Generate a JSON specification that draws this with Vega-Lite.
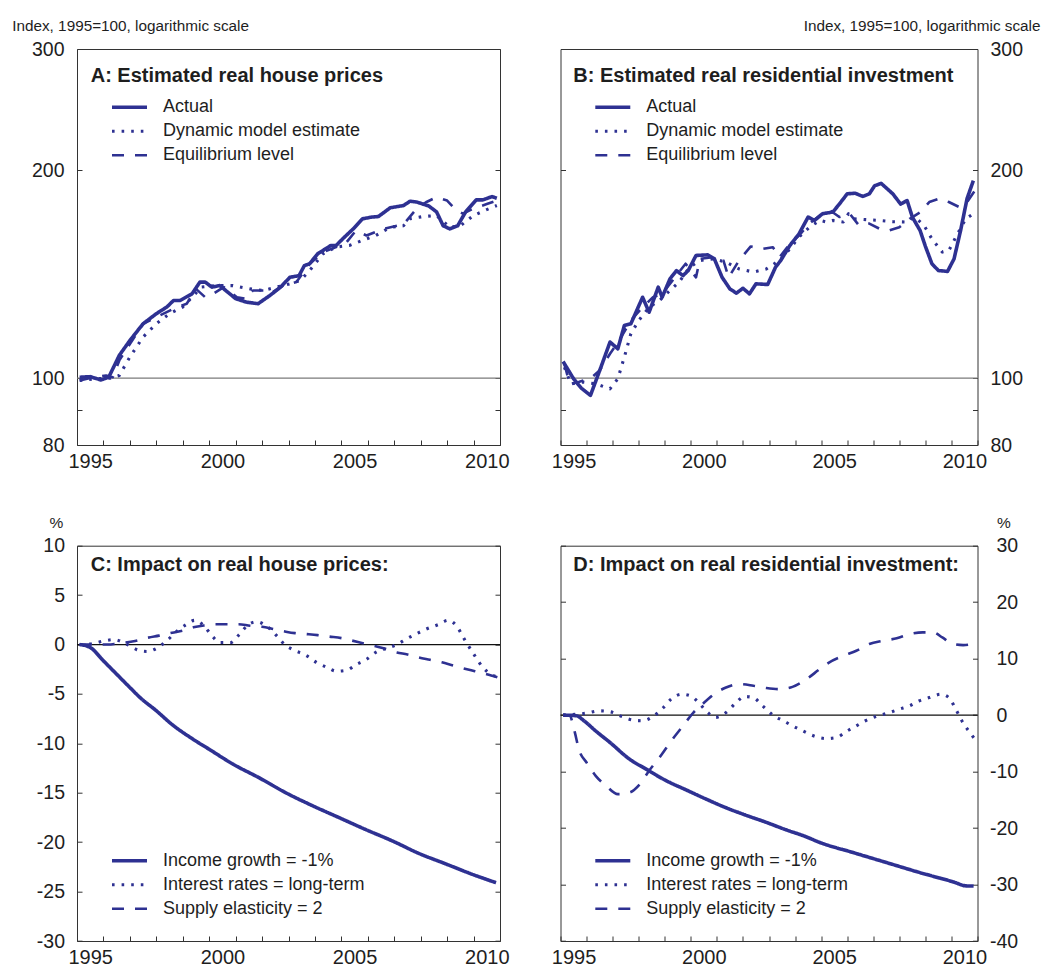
{
  "$schema": "https://vega.github.io/schema/vega-lite/v6.json",
  "background": "white",
  "padding": {"left": 11, "top": 17, "right": 5, "bottom": 0},
  "columns": 2,
  "spacing": {"row": 100.7, "column": 60.5},
  "bounds": "flush",
  "resolve": {
    "scale": {"strokeDash": "independent", "strokeWidth": "independent"},
    "legend": {"strokeDash": "independent", "strokeWidth": "independent"}
  },
  "datasets": {
    "A": [
      {"s": "Actual", "x": 1995.1, "v": 100.3}, {"s": "Actual", "x": 1995.5, "v": 100.5}, {"s": "Actual", "x": 1995.9, "v": 99.4}, {"s": "Actual", "x": 1996.2, "v": 100.3},
      {"s": "Actual", "x": 1996.6, "v": 107.9}, {"s": "Actual", "x": 1997.0, "v": 113.4}, {"s": "Actual", "x": 1997.5, "v": 119.9}, {"s": "Actual", "x": 1998.0, "v": 124.0},
      {"s": "Actual", "x": 1998.4, "v": 126.8}, {"s": "Actual", "x": 1998.65, "v": 129.6}, {"s": "Actual", "x": 1998.9, "v": 129.6}, {"s": "Actual", "x": 1999.35, "v": 132.5},
      {"s": "Actual", "x": 1999.65, "v": 137.8}, {"s": "Actual", "x": 1999.85, "v": 137.8}, {"s": "Actual", "x": 2000.1, "v": 135.5}, {"s": "Actual", "x": 2000.4, "v": 136.2},
      {"s": "Actual", "x": 2001.0, "v": 130.4}, {"s": "Actual", "x": 2001.4, "v": 128.9}, {"s": "Actual", "x": 2001.85, "v": 128.2}, {"s": "Actual", "x": 2002.3, "v": 131.8},
      {"s": "Actual", "x": 2002.7, "v": 135.5}, {"s": "Actual", "x": 2003.05, "v": 140.0}, {"s": "Actual", "x": 2003.4, "v": 140.8}, {"s": "Actual", "x": 2003.6, "v": 145.6},
      {"s": "Actual", "x": 2003.8, "v": 146.5}, {"s": "Actual", "x": 2004.1, "v": 151.4}, {"s": "Actual", "x": 2004.6, "v": 155.7}, {"s": "Actual", "x": 2004.8, "v": 155.7},
      {"s": "Actual", "x": 2005.05, "v": 159.2}, {"s": "Actual", "x": 2005.45, "v": 164.6}, {"s": "Actual", "x": 2005.8, "v": 170.2}, {"s": "Actual", "x": 2006.15, "v": 171.2},
      {"s": "Actual", "x": 2006.4, "v": 171.5}, {"s": "Actual", "x": 2006.85, "v": 176.6}, {"s": "Actual", "x": 2007.35, "v": 177.9}, {"s": "Actual", "x": 2007.6, "v": 180.5},
      {"s": "Actual", "x": 2007.85, "v": 180.0}, {"s": "Actual", "x": 2008.3, "v": 177.7}, {"s": "Actual", "x": 2008.6, "v": 174.2}, {"s": "Actual", "x": 2008.85, "v": 166.3},
      {"s": "Actual", "x": 2009.1, "v": 164.6}, {"s": "Actual", "x": 2009.4, "v": 166.3}, {"s": "Actual", "x": 2009.7, "v": 174.2}, {"s": "Actual", "x": 2010.1, "v": 181.3},
      {"s": "Actual", "x": 2010.35, "v": 181.3}, {"s": "Actual", "x": 2010.7, "v": 183.3}, {"s": "Actual", "x": 2010.88, "v": 182.3},
      {"s": "Dynamic model estimate", "x": 1995.1, "v": 99.2}, {"s": "Dynamic model estimate", "x": 1995.75, "v": 99.8}, {"s": "Dynamic model estimate", "x": 1996.25, "v": 100.0},
      {"s": "Dynamic model estimate", "x": 1996.6, "v": 100.9}, {"s": "Dynamic model estimate", "x": 1997.0, "v": 107.3}, {"s": "Dynamic model estimate", "x": 1997.5, "v": 114.7},
      {"s": "Dynamic model estimate", "x": 1998.0, "v": 119.9}, {"s": "Dynamic model estimate", "x": 1998.5, "v": 124.0}, {"s": "Dynamic model estimate", "x": 1999.0, "v": 126.8},
      {"s": "Dynamic model estimate", "x": 1999.35, "v": 131.0}, {"s": "Dynamic model estimate", "x": 1999.7, "v": 135.5}, {"s": "Dynamic model estimate", "x": 2000.3, "v": 136.2},
      {"s": "Dynamic model estimate", "x": 2000.9, "v": 136.2}, {"s": "Dynamic model estimate", "x": 2001.55, "v": 134.7}, {"s": "Dynamic model estimate", "x": 2002.05, "v": 134.0},
      {"s": "Dynamic model estimate", "x": 2002.55, "v": 135.5}, {"s": "Dynamic model estimate", "x": 2003.05, "v": 137.0}, {"s": "Dynamic model estimate", "x": 2003.45, "v": 138.6},
      {"s": "Dynamic model estimate", "x": 2003.8, "v": 143.2}, {"s": "Dynamic model estimate", "x": 2004.3, "v": 151.4}, {"s": "Dynamic model estimate", "x": 2004.8, "v": 154.9},
      {"s": "Dynamic model estimate", "x": 2005.3, "v": 155.7}, {"s": "Dynamic model estimate", "x": 2005.8, "v": 158.4}, {"s": "Dynamic model estimate", "x": 2006.3, "v": 161.0},
      {"s": "Dynamic model estimate", "x": 2006.85, "v": 165.5}, {"s": "Dynamic model estimate", "x": 2007.35, "v": 166.3}, {"s": "Dynamic model estimate", "x": 2007.6, "v": 170.2},
      {"s": "Dynamic model estimate", "x": 2008.1, "v": 171.5}, {"s": "Dynamic model estimate", "x": 2008.6, "v": 172.1}, {"s": "Dynamic model estimate", "x": 2009.1, "v": 165.5},
      {"s": "Dynamic model estimate", "x": 2009.5, "v": 166.3}, {"s": "Dynamic model estimate", "x": 2010.0, "v": 172.1}, {"s": "Dynamic model estimate", "x": 2010.5, "v": 175.5},
      {"s": "Dynamic model estimate", "x": 2010.88, "v": 177.9},
      {"s": "Equilibrium level", "x": 1995.1, "v": 99.2}, {"s": "Equilibrium level", "x": 1995.6, "v": 100.3}, {"s": "Equilibrium level", "x": 1996.1, "v": 100.9},
      {"s": "Equilibrium level", "x": 1996.35, "v": 100.3}, {"s": "Equilibrium level", "x": 1996.6, "v": 106.1}, {"s": "Equilibrium level", "x": 1997.0, "v": 112.1},
      {"s": "Equilibrium level", "x": 1997.5, "v": 119.9}, {"s": "Equilibrium level", "x": 1998.0, "v": 122.6}, {"s": "Equilibrium level", "x": 1998.8, "v": 126.8},
      {"s": "Equilibrium level", "x": 1999.15, "v": 128.2}, {"s": "Equilibrium level", "x": 1999.5, "v": 134.7}, {"s": "Equilibrium level", "x": 1999.85, "v": 131.0},
      {"s": "Equilibrium level", "x": 2000.15, "v": 132.5}, {"s": "Equilibrium level", "x": 2000.55, "v": 135.5}, {"s": "Equilibrium level", "x": 2001.05, "v": 131.0},
      {"s": "Equilibrium level", "x": 2001.4, "v": 130.3}, {"s": "Equilibrium level", "x": 2001.65, "v": 134.0}, {"s": "Equilibrium level", "x": 2002.05, "v": 134.0},
      {"s": "Equilibrium level", "x": 2002.3, "v": 132.5}, {"s": "Equilibrium level", "x": 2002.8, "v": 136.2}, {"s": "Equilibrium level", "x": 2003.3, "v": 137.8},
      {"s": "Equilibrium level", "x": 2003.8, "v": 146.5}, {"s": "Equilibrium level", "x": 2004.3, "v": 152.2}, {"s": "Equilibrium level", "x": 2004.8, "v": 154.9},
      {"s": "Equilibrium level", "x": 2005.2, "v": 157.5}, {"s": "Equilibrium level", "x": 2005.55, "v": 163.6}, {"s": "Equilibrium level", "x": 2005.95, "v": 161.0},
      {"s": "Equilibrium level", "x": 2006.6, "v": 164.6}, {"s": "Equilibrium level", "x": 2007.35, "v": 167.1}, {"s": "Equilibrium level", "x": 2007.85, "v": 176.1},
      {"s": "Equilibrium level", "x": 2008.2, "v": 179.9}, {"s": "Equilibrium level", "x": 2008.6, "v": 183.0}, {"s": "Equilibrium level", "x": 2009.0, "v": 180.9},
      {"s": "Equilibrium level", "x": 2009.35, "v": 175.0}, {"s": "Equilibrium level", "x": 2009.6, "v": 173.2}, {"s": "Equilibrium level", "x": 2010.0, "v": 176.1},
      {"s": "Equilibrium level", "x": 2010.5, "v": 178.8}, {"s": "Equilibrium level", "x": 2010.88, "v": 180.9}
    ],
    "B": [
      {"s": "Actual", "x": 1995.1, "v": 105.7}, {"s": "Actual", "x": 1995.5, "v": 99.8}, {"s": "Actual", "x": 1995.8, "v": 96.7}, {"s": "Actual", "x": 1996.15, "v": 94.4},
      {"s": "Actual", "x": 1996.55, "v": 103.7}, {"s": "Actual", "x": 1996.9, "v": 112.8}, {"s": "Actual", "x": 1997.2, "v": 110.3}, {"s": "Actual", "x": 1997.45, "v": 119.2},
      {"s": "Actual", "x": 1997.7, "v": 119.9}, {"s": "Actual", "x": 1998.15, "v": 131.0}, {"s": "Actual", "x": 1998.4, "v": 124.6}, {"s": "Actual", "x": 1998.75, "v": 135.5},
      {"s": "Actual", "x": 1998.9, "v": 131.0}, {"s": "Actual", "x": 1999.2, "v": 139.3}, {"s": "Actual", "x": 1999.45, "v": 143.2}, {"s": "Actual", "x": 1999.7, "v": 140.8},
      {"s": "Actual", "x": 1999.9, "v": 143.2}, {"s": "Actual", "x": 2000.2, "v": 150.6}, {"s": "Actual", "x": 2000.65, "v": 150.9}, {"s": "Actual", "x": 2000.9, "v": 149.0},
      {"s": "Actual", "x": 2001.2, "v": 140.0}, {"s": "Actual", "x": 2001.5, "v": 134.7}, {"s": "Actual", "x": 2001.75, "v": 132.8}, {"s": "Actual", "x": 2002.0, "v": 135.0},
      {"s": "Actual", "x": 2002.25, "v": 132.5}, {"s": "Actual", "x": 2002.5, "v": 137.0}, {"s": "Actual", "x": 2002.95, "v": 136.7}, {"s": "Actual", "x": 2003.25, "v": 144.8},
      {"s": "Actual", "x": 2003.45, "v": 148.1}, {"s": "Actual", "x": 2003.8, "v": 155.7}, {"s": "Actual", "x": 2004.15, "v": 161.8}, {"s": "Actual", "x": 2004.5, "v": 171.2},
      {"s": "Actual", "x": 2004.75, "v": 169.3}, {"s": "Actual", "x": 2005.05, "v": 173.1}, {"s": "Actual", "x": 2005.45, "v": 174.1}, {"s": "Actual", "x": 2005.7, "v": 178.8},
      {"s": "Actual", "x": 2006.0, "v": 185.0}, {"s": "Actual", "x": 2006.3, "v": 185.4}, {"s": "Actual", "x": 2006.6, "v": 183.4}, {"s": "Actual", "x": 2006.85, "v": 185.0},
      {"s": "Actual", "x": 2007.05, "v": 190.0}, {"s": "Actual", "x": 2007.3, "v": 191.6}, {"s": "Actual", "x": 2007.75, "v": 185.0}, {"s": "Actual", "x": 2008.05, "v": 178.8},
      {"s": "Actual", "x": 2008.3, "v": 180.9}, {"s": "Actual", "x": 2008.5, "v": 171.2}, {"s": "Actual", "x": 2008.8, "v": 163.6}, {"s": "Actual", "x": 2009.0, "v": 155.3},
      {"s": "Actual", "x": 2009.25, "v": 146.5}, {"s": "Actual", "x": 2009.5, "v": 143.2}, {"s": "Actual", "x": 2009.85, "v": 142.8}, {"s": "Actual", "x": 2010.1, "v": 148.9},
      {"s": "Actual", "x": 2010.35, "v": 163.6}, {"s": "Actual", "x": 2010.6, "v": 182.1}, {"s": "Actual", "x": 2010.84, "v": 193.3},
      {"s": "Dynamic model estimate", "x": 1995.15, "v": 103.7}, {"s": "Dynamic model estimate", "x": 1995.4, "v": 98.1}, {"s": "Dynamic model estimate", "x": 1995.85, "v": 98.7},
      {"s": "Dynamic model estimate", "x": 1996.35, "v": 98.1}, {"s": "Dynamic model estimate", "x": 1996.9, "v": 96.5}, {"s": "Dynamic model estimate", "x": 1997.2, "v": 99.8},
      {"s": "Dynamic model estimate", "x": 1997.45, "v": 107.3}, {"s": "Dynamic model estimate", "x": 1997.7, "v": 116.0}, {"s": "Dynamic model estimate", "x": 1998.0, "v": 121.2},
      {"s": "Dynamic model estimate", "x": 1998.4, "v": 126.7}, {"s": "Dynamic model estimate", "x": 1998.8, "v": 129.6}, {"s": "Dynamic model estimate", "x": 1999.2, "v": 134.0},
      {"s": "Dynamic model estimate", "x": 1999.55, "v": 137.8}, {"s": "Dynamic model estimate", "x": 1999.95, "v": 144.8}, {"s": "Dynamic model estimate", "x": 2000.35, "v": 148.1},
      {"s": "Dynamic model estimate", "x": 2000.85, "v": 148.9}, {"s": "Dynamic model estimate", "x": 2001.35, "v": 147.3}, {"s": "Dynamic model estimate", "x": 2001.85, "v": 144.0},
      {"s": "Dynamic model estimate", "x": 2002.4, "v": 142.5}, {"s": "Dynamic model estimate", "x": 2002.9, "v": 144.0}, {"s": "Dynamic model estimate", "x": 2003.4, "v": 148.1},
      {"s": "Dynamic model estimate", "x": 2003.8, "v": 153.9}, {"s": "Dynamic model estimate", "x": 2004.15, "v": 160.1}, {"s": "Dynamic model estimate", "x": 2004.55, "v": 165.5},
      {"s": "Dynamic model estimate", "x": 2004.95, "v": 169.3}, {"s": "Dynamic model estimate", "x": 2005.2, "v": 168.4}, {"s": "Dynamic model estimate", "x": 2005.45, "v": 169.3},
      {"s": "Dynamic model estimate", "x": 2005.85, "v": 168.4}, {"s": "Dynamic model estimate", "x": 2006.05, "v": 173.1}, {"s": "Dynamic model estimate", "x": 2006.25, "v": 170.2},
      {"s": "Dynamic model estimate", "x": 2006.75, "v": 169.7}, {"s": "Dynamic model estimate", "x": 2007.25, "v": 169.3}, {"s": "Dynamic model estimate", "x": 2007.75, "v": 168.6},
      {"s": "Dynamic model estimate", "x": 2008.25, "v": 168.4}, {"s": "Dynamic model estimate", "x": 2008.6, "v": 171.2}, {"s": "Dynamic model estimate", "x": 2008.95, "v": 166.4},
      {"s": "Dynamic model estimate", "x": 2009.25, "v": 159.2}, {"s": "Dynamic model estimate", "x": 2009.65, "v": 152.3}, {"s": "Dynamic model estimate", "x": 2009.9, "v": 153.1},
      {"s": "Dynamic model estimate", "x": 2010.2, "v": 161.0}, {"s": "Dynamic model estimate", "x": 2010.55, "v": 170.2}, {"s": "Dynamic model estimate", "x": 2010.88, "v": 173.5},
      {"s": "Equilibrium level", "x": 1995.15, "v": 104.9}, {"s": "Equilibrium level", "x": 1995.35, "v": 98.1}, {"s": "Equilibrium level", "x": 1995.7, "v": 98.7},
      {"s": "Equilibrium level", "x": 1996.2, "v": 100.3}, {"s": "Equilibrium level", "x": 1996.5, "v": 102.6}, {"s": "Equilibrium level", "x": 1996.9, "v": 108.5},
      {"s": "Equilibrium level", "x": 1997.25, "v": 113.4}, {"s": "Equilibrium level", "x": 1997.7, "v": 121.2}, {"s": "Equilibrium level", "x": 1998.15, "v": 126.7},
      {"s": "Equilibrium level", "x": 1998.55, "v": 131.0}, {"s": "Equilibrium level", "x": 1998.9, "v": 132.5}, {"s": "Equilibrium level", "x": 1999.3, "v": 138.6},
      {"s": "Equilibrium level", "x": 1999.8, "v": 146.5}, {"s": "Equilibrium level", "x": 2000.2, "v": 140.0}, {"s": "Equilibrium level", "x": 2000.35, "v": 148.9},
      {"s": "Equilibrium level", "x": 2000.85, "v": 149.7}, {"s": "Equilibrium level", "x": 2001.25, "v": 148.1}, {"s": "Equilibrium level", "x": 2001.45, "v": 140.0},
      {"s": "Equilibrium level", "x": 2001.85, "v": 148.1}, {"s": "Equilibrium level", "x": 2002.3, "v": 155.2}, {"s": "Equilibrium level", "x": 2002.75, "v": 153.9},
      {"s": "Equilibrium level", "x": 2003.15, "v": 154.8}, {"s": "Equilibrium level", "x": 2003.4, "v": 149.7}, {"s": "Equilibrium level", "x": 2003.8, "v": 156.6},
      {"s": "Equilibrium level", "x": 2004.15, "v": 160.9}, {"s": "Equilibrium level", "x": 2004.55, "v": 167.5}, {"s": "Equilibrium level", "x": 2004.95, "v": 172.1},
      {"s": "Equilibrium level", "x": 2005.35, "v": 175.0}, {"s": "Equilibrium level", "x": 2005.7, "v": 171.2}, {"s": "Equilibrium level", "x": 2006.1, "v": 173.1},
      {"s": "Equilibrium level", "x": 2006.45, "v": 166.5}, {"s": "Equilibrium level", "x": 2006.85, "v": 167.5}, {"s": "Equilibrium level", "x": 2007.25, "v": 164.6},
      {"s": "Equilibrium level", "x": 2007.6, "v": 163.7}, {"s": "Equilibrium level", "x": 2008.0, "v": 165.5}, {"s": "Equilibrium level", "x": 2008.4, "v": 170.2},
      {"s": "Equilibrium level", "x": 2008.8, "v": 173.9}, {"s": "Equilibrium level", "x": 2009.15, "v": 180.0}, {"s": "Equilibrium level", "x": 2009.55, "v": 182.1},
      {"s": "Equilibrium level", "x": 2009.9, "v": 180.0}, {"s": "Equilibrium level", "x": 2010.3, "v": 177.0}, {"s": "Equilibrium level", "x": 2010.55, "v": 178.8},
      {"s": "Equilibrium level", "x": 2010.88, "v": 186.5}
    ],
    "C": [
      {"s": "Income growth = -1%", "x": 1995.1, "v": 0}, {"s": "Income growth = -1%", "x": 1995.5, "v": -0.3}, {"s": "Income growth = -1%", "x": 1996.0, "v": -1.65},
      {"s": "Income growth = -1%", "x": 1996.5, "v": -3.0}, {"s": "Income growth = -1%", "x": 1997.0, "v": -4.35}, {"s": "Income growth = -1%", "x": 1997.4, "v": -5.4},
      {"s": "Income growth = -1%", "x": 1998.0, "v": -6.7}, {"s": "Income growth = -1%", "x": 1998.6, "v": -8.1}, {"s": "Income growth = -1%", "x": 1999.4, "v": -9.6},
      {"s": "Income growth = -1%", "x": 2000.0, "v": -10.6}, {"s": "Income growth = -1%", "x": 2000.9, "v": -12.1}, {"s": "Income growth = -1%", "x": 2001.9, "v": -13.5},
      {"s": "Income growth = -1%", "x": 2002.9, "v": -15.0}, {"s": "Income growth = -1%", "x": 2003.9, "v": -16.3}, {"s": "Income growth = -1%", "x": 2004.9, "v": -17.5},
      {"s": "Income growth = -1%", "x": 2005.9, "v": -18.7}, {"s": "Income growth = -1%", "x": 2006.95, "v": -19.9}, {"s": "Income growth = -1%", "x": 2007.9, "v": -21.1},
      {"s": "Income growth = -1%", "x": 2008.95, "v": -22.2}, {"s": "Income growth = -1%", "x": 2009.95, "v": -23.25}, {"s": "Income growth = -1%", "x": 2010.85, "v": -24.1},
      {"s": "Interest rates = long-term", "x": 1995.1, "v": 0}, {"s": "Interest rates = long-term", "x": 1995.6, "v": 0.1}, {"s": "Interest rates = long-term", "x": 1996.0, "v": 0.35},
      {"s": "Interest rates = long-term", "x": 1996.4, "v": 0.5}, {"s": "Interest rates = long-term", "x": 1996.9, "v": 0}, {"s": "Interest rates = long-term", "x": 1997.25, "v": -0.5},
      {"s": "Interest rates = long-term", "x": 1997.65, "v": -0.7}, {"s": "Interest rates = long-term", "x": 1998.0, "v": -0.4}, {"s": "Interest rates = long-term", "x": 1998.4, "v": 0.4},
      {"s": "Interest rates = long-term", "x": 1998.8, "v": 1.4}, {"s": "Interest rates = long-term", "x": 1999.15, "v": 2.05}, {"s": "Interest rates = long-term", "x": 1999.45, "v": 2.45},
      {"s": "Interest rates = long-term", "x": 1999.8, "v": 1.9}, {"s": "Interest rates = long-term", "x": 2000.1, "v": 0.9}, {"s": "Interest rates = long-term", "x": 2000.4, "v": 0.2},
      {"s": "Interest rates = long-term", "x": 2000.8, "v": 0.2}, {"s": "Interest rates = long-term", "x": 2001.15, "v": 1.05}, {"s": "Interest rates = long-term", "x": 2001.5, "v": 2.05},
      {"s": "Interest rates = long-term", "x": 2001.8, "v": 2.3}, {"s": "Interest rates = long-term", "x": 2002.2, "v": 1.8}, {"s": "Interest rates = long-term", "x": 2002.55, "v": 0.9},
      {"s": "Interest rates = long-term", "x": 2002.85, "v": 0}, {"s": "Interest rates = long-term", "x": 2003.2, "v": -0.55}, {"s": "Interest rates = long-term", "x": 2003.7, "v": -1.15},
      {"s": "Interest rates = long-term", "x": 2004.05, "v": -1.8}, {"s": "Interest rates = long-term", "x": 2004.45, "v": -2.3}, {"s": "Interest rates = long-term", "x": 2004.8, "v": -2.7},
      {"s": "Interest rates = long-term", "x": 2005.2, "v": -2.6}, {"s": "Interest rates = long-term", "x": 2005.55, "v": -2.05}, {"s": "Interest rates = long-term", "x": 2005.95, "v": -1.5},
      {"s": "Interest rates = long-term", "x": 2006.3, "v": -0.8}, {"s": "Interest rates = long-term", "x": 2006.7, "v": -0.4}, {"s": "Interest rates = long-term", "x": 2007.1, "v": 0},
      {"s": "Interest rates = long-term", "x": 2007.45, "v": 0.55}, {"s": "Interest rates = long-term", "x": 2007.85, "v": 1.1}, {"s": "Interest rates = long-term", "x": 2008.2, "v": 1.55},
      {"s": "Interest rates = long-term", "x": 2008.65, "v": 2.0}, {"s": "Interest rates = long-term", "x": 2009.05, "v": 2.45}, {"s": "Interest rates = long-term", "x": 2009.35, "v": 1.9},
      {"s": "Interest rates = long-term", "x": 2009.65, "v": 0.55}, {"s": "Interest rates = long-term", "x": 2010.05, "v": -1.15}, {"s": "Interest rates = long-term", "x": 2010.35, "v": -2.3},
      {"s": "Interest rates = long-term", "x": 2010.75, "v": -3.15}, {"s": "Interest rates = long-term", "x": 2010.9, "v": -3.25},
      {"s": "Supply elasticity = 2", "x": 1995.1, "v": 0}, {"s": "Supply elasticity = 2", "x": 1995.6, "v": 0}, {"s": "Supply elasticity = 2", "x": 1996.2, "v": 0},
      {"s": "Supply elasticity = 2", "x": 1996.5, "v": 0.1}, {"s": "Supply elasticity = 2", "x": 1997.2, "v": 0.35}, {"s": "Supply elasticity = 2", "x": 1997.7, "v": 0.7},
      {"s": "Supply elasticity = 2", "x": 1998.1, "v": 0.9}, {"s": "Supply elasticity = 2", "x": 1998.6, "v": 1.2}, {"s": "Supply elasticity = 2", "x": 1999.0, "v": 1.4},
      {"s": "Supply elasticity = 2", "x": 1999.4, "v": 1.75}, {"s": "Supply elasticity = 2", "x": 1999.85, "v": 1.95}, {"s": "Supply elasticity = 2", "x": 2000.2, "v": 2.05},
      {"s": "Supply elasticity = 2", "x": 2000.7, "v": 2.05}, {"s": "Supply elasticity = 2", "x": 2001.1, "v": 2.05}, {"s": "Supply elasticity = 2", "x": 2001.55, "v": 1.9},
      {"s": "Supply elasticity = 2", "x": 2002.0, "v": 1.8}, {"s": "Supply elasticity = 2", "x": 2002.45, "v": 1.55}, {"s": "Supply elasticity = 2", "x": 2002.9, "v": 1.3},
      {"s": "Supply elasticity = 2", "x": 2003.25, "v": 1.15}, {"s": "Supply elasticity = 2", "x": 2003.7, "v": 1.05}, {"s": "Supply elasticity = 2", "x": 2004.1, "v": 0.95},
      {"s": "Supply elasticity = 2", "x": 2004.55, "v": 0.8}, {"s": "Supply elasticity = 2", "x": 2005.0, "v": 0.65}, {"s": "Supply elasticity = 2", "x": 2005.4, "v": 0.4},
      {"s": "Supply elasticity = 2", "x": 2005.85, "v": 0.1}, {"s": "Supply elasticity = 2", "x": 2006.25, "v": -0.15}, {"s": "Supply elasticity = 2", "x": 2006.7, "v": -0.45},
      {"s": "Supply elasticity = 2", "x": 2007.1, "v": -0.8}, {"s": "Supply elasticity = 2", "x": 2007.5, "v": -1.0}, {"s": "Supply elasticity = 2", "x": 2007.9, "v": -1.3},
      {"s": "Supply elasticity = 2", "x": 2008.35, "v": -1.55}, {"s": "Supply elasticity = 2", "x": 2008.8, "v": -1.8}, {"s": "Supply elasticity = 2", "x": 2009.25, "v": -2.15},
      {"s": "Supply elasticity = 2", "x": 2009.6, "v": -2.4}, {"s": "Supply elasticity = 2", "x": 2010.05, "v": -2.7}, {"s": "Supply elasticity = 2", "x": 2010.5, "v": -3.0},
      {"s": "Supply elasticity = 2", "x": 2010.9, "v": -3.3}
    ],
    "D": [
      {"s": "Income growth = -1%", "x": 1995.1, "v": 0}, {"s": "Income growth = -1%", "x": 1995.6, "v": -0.1}, {"s": "Income growth = -1%", "x": 1995.9, "v": -1.0},
      {"s": "Income growth = -1%", "x": 1996.35, "v": -2.8}, {"s": "Income growth = -1%", "x": 1996.9, "v": -4.85}, {"s": "Income growth = -1%", "x": 1997.65, "v": -7.8},
      {"s": "Income growth = -1%", "x": 1998.3, "v": -9.6}, {"s": "Income growth = -1%", "x": 1999.05, "v": -11.6}, {"s": "Income growth = -1%", "x": 1999.8, "v": -13.2},
      {"s": "Income growth = -1%", "x": 2000.6, "v": -14.9}, {"s": "Income growth = -1%", "x": 2001.35, "v": -16.4}, {"s": "Income growth = -1%", "x": 2002.1, "v": -17.7},
      {"s": "Income growth = -1%", "x": 2002.9, "v": -19.0}, {"s": "Income growth = -1%", "x": 2003.65, "v": -20.3}, {"s": "Income growth = -1%", "x": 2004.4, "v": -21.5},
      {"s": "Income growth = -1%", "x": 2004.95, "v": -22.55}, {"s": "Income growth = -1%", "x": 2006.2, "v": -24.3}, {"s": "Income growth = -1%", "x": 2007.5, "v": -26.1},
      {"s": "Income growth = -1%", "x": 2008.8, "v": -27.9}, {"s": "Income growth = -1%", "x": 2010.05, "v": -29.5}, {"s": "Income growth = -1%", "x": 2010.6, "v": -30.25},
      {"s": "Income growth = -1%", "x": 2010.85, "v": -30.25},
      {"s": "Interest rates = long-term", "x": 1995.1, "v": 0}, {"s": "Interest rates = long-term", "x": 1996.0, "v": 0.35}, {"s": "Interest rates = long-term", "x": 1996.5, "v": 0.75},
      {"s": "Interest rates = long-term", "x": 1996.9, "v": 0.6}, {"s": "Interest rates = long-term", "x": 1997.35, "v": -0.25}, {"s": "Interest rates = long-term", "x": 1997.8, "v": -0.9},
      {"s": "Interest rates = long-term", "x": 1998.15, "v": -1.0}, {"s": "Interest rates = long-term", "x": 1998.55, "v": -0.25}, {"s": "Interest rates = long-term", "x": 1998.95, "v": 1.35},
      {"s": "Interest rates = long-term", "x": 1999.25, "v": 2.85}, {"s": "Interest rates = long-term", "x": 1999.65, "v": 3.7}, {"s": "Interest rates = long-term", "x": 2000.0, "v": 3.4},
      {"s": "Interest rates = long-term", "x": 2000.35, "v": 1.95}, {"s": "Interest rates = long-term", "x": 2000.65, "v": 0.45}, {"s": "Interest rates = long-term", "x": 2000.95, "v": -0.4},
      {"s": "Interest rates = long-term", "x": 2001.35, "v": 0.45}, {"s": "Interest rates = long-term", "x": 2001.75, "v": 2.25}, {"s": "Interest rates = long-term", "x": 2002.05, "v": 3.3},
      {"s": "Interest rates = long-term", "x": 2002.4, "v": 3.1}, {"s": "Interest rates = long-term", "x": 2002.75, "v": 1.65}, {"s": "Interest rates = long-term", "x": 2003.15, "v": 0},
      {"s": "Interest rates = long-term", "x": 2003.55, "v": -1.0}, {"s": "Interest rates = long-term", "x": 2003.9, "v": -1.9}, {"s": "Interest rates = long-term", "x": 2004.3, "v": -2.8},
      {"s": "Interest rates = long-term", "x": 2004.7, "v": -3.65}, {"s": "Interest rates = long-term", "x": 2005.2, "v": -4.15}, {"s": "Interest rates = long-term", "x": 2005.6, "v": -3.95},
      {"s": "Interest rates = long-term", "x": 2005.95, "v": -2.95}, {"s": "Interest rates = long-term", "x": 2006.35, "v": -1.9}, {"s": "Interest rates = long-term", "x": 2006.7, "v": -1.0},
      {"s": "Interest rates = long-term", "x": 2007.1, "v": -0.25}, {"s": "Interest rates = long-term", "x": 2007.55, "v": 0.35}, {"s": "Interest rates = long-term", "x": 2008.0, "v": 1.05},
      {"s": "Interest rates = long-term", "x": 2008.4, "v": 1.65}, {"s": "Interest rates = long-term", "x": 2008.75, "v": 2.5}, {"s": "Interest rates = long-term", "x": 2009.15, "v": 3.1},
      {"s": "Interest rates = long-term", "x": 2009.6, "v": 3.7}, {"s": "Interest rates = long-term", "x": 2009.9, "v": 3.1}, {"s": "Interest rates = long-term", "x": 2010.15, "v": 1.2},
      {"s": "Interest rates = long-term", "x": 2010.4, "v": -1.0}, {"s": "Interest rates = long-term", "x": 2010.7, "v": -3.05}, {"s": "Interest rates = long-term", "x": 2010.9, "v": -4.25},
      {"s": "Supply elasticity = 2", "x": 1995.1, "v": 0}, {"s": "Supply elasticity = 2", "x": 1995.35, "v": -0.1}, {"s": "Supply elasticity = 2", "x": 1995.55, "v": -3.05},
      {"s": "Supply elasticity = 2", "x": 1995.7, "v": -6.0}, {"s": "Supply elasticity = 2", "x": 1996.0, "v": -8.4}, {"s": "Supply elasticity = 2", "x": 1996.35, "v": -10.75},
      {"s": "Supply elasticity = 2", "x": 1996.75, "v": -12.5}, {"s": "Supply elasticity = 2", "x": 1997.2, "v": -14.0}, {"s": "Supply elasticity = 2", "x": 1997.65, "v": -13.7},
      {"s": "Supply elasticity = 2", "x": 1998.05, "v": -12.2}, {"s": "Supply elasticity = 2", "x": 1998.4, "v": -9.85}, {"s": "Supply elasticity = 2", "x": 1998.8, "v": -7.5},
      {"s": "Supply elasticity = 2", "x": 1999.3, "v": -4.25}, {"s": "Supply elasticity = 2", "x": 1999.7, "v": -1.9}, {"s": "Supply elasticity = 2", "x": 2000.1, "v": 0.45},
      {"s": "Supply elasticity = 2", "x": 2000.45, "v": 1.95}, {"s": "Supply elasticity = 2", "x": 2000.85, "v": 3.55}, {"s": "Supply elasticity = 2", "x": 2001.35, "v": 4.9},
      {"s": "Supply elasticity = 2", "x": 2001.85, "v": 5.5}, {"s": "Supply elasticity = 2", "x": 2002.4, "v": 5.2}, {"s": "Supply elasticity = 2", "x": 2002.9, "v": 4.8},
      {"s": "Supply elasticity = 2", "x": 2003.4, "v": 4.6}, {"s": "Supply elasticity = 2", "x": 2003.9, "v": 5.0}, {"s": "Supply elasticity = 2", "x": 2004.4, "v": 6.25},
      {"s": "Supply elasticity = 2", "x": 2004.95, "v": 8.15}, {"s": "Supply elasticity = 2", "x": 2005.3, "v": 9.3}, {"s": "Supply elasticity = 2", "x": 2005.85, "v": 10.5},
      {"s": "Supply elasticity = 2", "x": 2006.35, "v": 11.4}, {"s": "Supply elasticity = 2", "x": 2006.85, "v": 12.6}, {"s": "Supply elasticity = 2", "x": 2007.35, "v": 13.15},
      {"s": "Supply elasticity = 2", "x": 2007.9, "v": 13.6}, {"s": "Supply elasticity = 2", "x": 2008.4, "v": 14.35}, {"s": "Supply elasticity = 2", "x": 2008.9, "v": 14.65},
      {"s": "Supply elasticity = 2", "x": 2009.3, "v": 14.65}, {"s": "Supply elasticity = 2", "x": 2009.65, "v": 13.75}, {"s": "Supply elasticity = 2", "x": 2010.05, "v": 12.6},
      {"s": "Supply elasticity = 2", "x": 2010.45, "v": 12.4}, {"s": "Supply elasticity = 2", "x": 2010.8, "v": 12.6}, {"s": "Supply elasticity = 2", "x": 2010.95, "v": 12.9}
    ]
  },
  "concat": [
    {
      "width": 423, "height": 396,
      "title": {"text": "A: Estimated real house prices", "offset": -67.5, "dx": 13.7},
      "layer": [
        {
          "data": {"values": [{}]},
          "mark": {"type": "rule", "color": "#7a7a7a", "strokeWidth": 1.3},
          "encoding": {"y": {"datum": 100, "type": "quantitative", "scale": {"type": "log", "domain": [80, 300], "nice": false},
            "axis": {"orient": "right", "values": [80, 90, 100, 200, 300], "labels": false, "tickSize": -5, "title": null}}}
        },
        {
          "data": {"name": "A"},
          "mark": {"type": "line", "color": "#2e3192", "strokeCap": "butt", "strokeJoin": "round"},
          "encoding": {
            "x": {"field": "x", "type": "quantitative", "scale": {"domain": [1995, 2011], "nice": false, "zero": false},
              "axis": {"values": [1995, 1996, 1997, 1998, 1999, 2000, 2001, 2002, 2003, 2004, 2005, 2006, 2007, 2008, 2009, 2010, 2011], "labelExpr": "datum.value % 5 == 0 && datum.value < 2011 ? '' + datum.value : ''", "labelOffset": 13.24, "tickSize": -5, "labelPadding": 11.5, "labelFontSize": 20, "title": null}},
            "y": {"field": "v", "type": "quantitative", "scale": {"type": "log", "domain": [80, 300], "nice": false},
              "axis": {"orient": "left", "values": [80, 90, 100, 200, 300], "labelExpr": "datum.value == 90 ? '' : '' + datum.value", "tickSize": -5, "labelPadding": 18,
                "title": "Index, 1995=100, logarithmic scale", "titleX": -65.3, "titleY": -19, "titleAlign": "left", "titleBaseline": "alphabetic"}},
            "strokeDash": {"field": "s", "type": "nominal", "scale": {"domain": ["Actual", "Dynamic model estimate", "Equilibrium level"], "range": [[1, 0], [2.6, 7], [12, 11]]},
              "legend": {"legendX": 33, "legendY": 49}},
            "strokeWidth": {"field": "s", "type": "nominal", "scale": {"domain": ["Actual", "Dynamic model estimate", "Equilibrium level"], "range": [3.6, 2.6, 2.7]},
              "legend": {"legendX": 33, "legendY": 49}}
          }
        }
      ],
      "resolve": {"axis": {"y": "independent"}}
    },
    {
      "width": 417, "height": 396,
      "title": {"text": "B: Estimated real residential investment", "offset": -67.5, "dx": 12.8},
      "layer": [
        {
          "data": {"values": [{}]},
          "mark": {"type": "rule", "color": "#7a7a7a", "strokeWidth": 1.3},
          "encoding": {"y": {"datum": 100, "type": "quantitative", "scale": {"type": "log", "domain": [80, 300], "nice": false},
            "axis": {"orient": "left", "values": [80, 90, 100, 200, 300], "labels": false, "tickSize": -5, "title": null}}}
        },
        {
          "data": {"name": "B"},
          "mark": {"type": "line", "color": "#2e3192", "strokeCap": "butt", "strokeJoin": "round"},
          "encoding": {
            "x": {"field": "x", "type": "quantitative", "scale": {"domain": [1995, 2011], "nice": false, "zero": false},
              "axis": {"values": [1995, 1996, 1997, 1998, 1999, 2000, 2001, 2002, 2003, 2004, 2005, 2006, 2007, 2008, 2009, 2010, 2011], "labelExpr": "datum.value % 5 == 0 && datum.value < 2011 ? '' + datum.value : ''", "labelOffset": 13.03, "tickSize": -5, "labelPadding": 11.5, "labelFontSize": 20, "title": null}},
            "y": {"field": "v", "type": "quantitative", "scale": {"type": "log", "domain": [80, 300], "nice": false},
              "axis": {"orient": "right", "values": [80, 90, 100, 200, 300], "labelExpr": "datum.value == 90 ? '' : '' + datum.value", "tickSize": -5, "labelPadding": 17.5,
                "title": "Index, 1995=100, logarithmic scale", "titleX": 62.5, "titleY": -19, "titleAlign": "right", "titleBaseline": "alphabetic"}},
            "strokeDash": {"field": "s", "type": "nominal", "scale": {"domain": ["Actual", "Dynamic model estimate", "Equilibrium level"], "range": [[1, 0], [2.6, 7], [12, 11]]},
              "legend": {"legendX": 32.8, "legendY": 49}},
            "strokeWidth": {"field": "s", "type": "nominal", "scale": {"domain": ["Actual", "Dynamic model estimate", "Equilibrium level"], "range": [3.6, 2.6, 2.7]},
              "legend": {"legendX": 32.8, "legendY": 49}}
          }
        }
      ],
      "resolve": {"axis": {"y": "independent"}}
    },
    {
      "width": 423, "height": 395.3,
      "title": {"text": "C: Impact on real house prices:", "offset": -59.7, "dx": 13.7},
      "layer": [
        {
          "data": {"values": [{}]},
          "mark": {"type": "rule", "color": "#111111", "strokeWidth": 1.2},
          "encoding": {"y": {"datum": 0, "type": "quantitative", "scale": {"domain": [-30, 10], "nice": false, "zero": false},
            "axis": {"orient": "right", "values": [-30, -25, -20, -15, -10, -5, 0, 5, 10], "labels": false, "tickSize": -5, "title": null}}}
        },
        {
          "data": {"name": "C"},
          "mark": {"type": "line", "color": "#2e3192", "strokeCap": "butt", "strokeJoin": "round", "interpolate": "monotone"},
          "encoding": {
            "x": {"field": "x", "type": "quantitative", "scale": {"domain": [1995, 2011], "nice": false, "zero": false},
              "axis": {"values": [1995, 1996, 1997, 1998, 1999, 2000, 2001, 2002, 2003, 2004, 2005, 2006, 2007, 2008, 2009, 2010, 2011], "labelExpr": "datum.value % 5 == 0 && datum.value < 2011 ? '' + datum.value : ''", "labelOffset": 13.24, "tickSize": -5, "labelPadding": 11.5, "labelFontSize": 20, "title": null}},
            "y": {"field": "v", "type": "quantitative", "scale": {"domain": [-30, 10], "nice": false, "zero": false},
              "axis": {"orient": "left", "values": [-30, -25, -20, -15, -10, -5, 0, 5, 10], "labelExpr": "'' + datum.value", "tickSize": -5, "labelPadding": 17.5,
                "title": "%", "titleX": -21, "titleY": -18.3, "titleAlign": "center", "titleBaseline": "alphabetic", "titleFontSize": 15.5}},
            "strokeDash": {"field": "s", "type": "nominal", "scale": {"domain": ["Income growth = -1%", "Interest rates = long-term", "Supply elasticity = 2"], "range": [[1, 0], [2.6, 7], [12, 11]]},
              "legend": {"legendX": 33, "legendY": 305.8}},
            "strokeWidth": {"field": "s", "type": "nominal", "scale": {"domain": ["Income growth = -1%", "Interest rates = long-term", "Supply elasticity = 2"], "range": [3.6, 2.6, 2.7]},
              "legend": {"legendX": 33, "legendY": 305.8}}
          }
        }
      ],
      "resolve": {"axis": {"y": "independent"}}
    },
    {
      "width": 417, "height": 395.3,
      "title": {"text": "D: Impact on real residential investment:", "offset": -59.7, "dx": 12.8},
      "layer": [
        {
          "data": {"values": [{}]},
          "mark": {"type": "rule", "color": "#111111", "strokeWidth": 1.2},
          "encoding": {"y": {"datum": 0, "type": "quantitative", "scale": {"domain": [-40, 30], "nice": false, "zero": false},
            "axis": {"orient": "left", "values": [-40, -30, -20, -10, 0, 10, 20, 30], "labels": false, "tickSize": -5, "title": null}}}
        },
        {
          "data": {"name": "D"},
          "mark": {"type": "line", "color": "#2e3192", "strokeCap": "butt", "strokeJoin": "round", "interpolate": "monotone"},
          "encoding": {
            "x": {"field": "x", "type": "quantitative", "scale": {"domain": [1995, 2011], "nice": false, "zero": false},
              "axis": {"values": [1995, 1996, 1997, 1998, 1999, 2000, 2001, 2002, 2003, 2004, 2005, 2006, 2007, 2008, 2009, 2010, 2011], "labelExpr": "datum.value % 5 == 0 && datum.value < 2011 ? '' + datum.value : ''", "labelOffset": 13.03, "tickSize": -5, "labelPadding": 11.5, "labelFontSize": 20, "title": null}},
            "y": {"field": "v", "type": "quantitative", "scale": {"domain": [-40, 30], "nice": false, "zero": false},
              "axis": {"orient": "right", "values": [-40, -30, -20, -10, 0, 10, 20, 30], "labelExpr": "'' + datum.value", "tickSize": -5,
                "labelPadding": {"condition": {"test": "datum.value < 0", "value": 17}, "value": 23.5},
                "title": "%", "titleX": 26, "titleY": -18.3, "titleAlign": "center", "titleBaseline": "alphabetic", "titleFontSize": 15.5}},
            "strokeDash": {"field": "s", "type": "nominal", "scale": {"domain": ["Income growth = -1%", "Interest rates = long-term", "Supply elasticity = 2"], "range": [[1, 0], [2.6, 7], [12, 11]]},
              "legend": {"legendX": 32.8, "legendY": 305.8}},
            "strokeWidth": {"field": "s", "type": "nominal", "scale": {"domain": ["Income growth = -1%", "Interest rates = long-term", "Supply elasticity = 2"], "range": [3.6, 2.6, 2.7]},
              "legend": {"legendX": 32.8, "legendY": 305.8}}
          }
        }
      ],
      "resolve": {"axis": {"y": "independent"}}
    }
  ],
  "config": {
    "font": "Liberation Sans",
    "view": {"stroke": "#333333", "strokeWidth": 1},
    "axis": {"labelFont": "Liberation Sans", "labelFontSize": 19.5, "labelColor": "#1e1e1e", "tickColor": "#333333", "tickWidth": 1,
      "domain": false, "grid": false, "labelFlush": false, "labelOverlap": false, "titleFont": "Liberation Sans", "titleFontWeight": "normal",
      "titleColor": "#1e1e1e", "titleFontSize": 15.3, "titleAngle": 0, "titlePadding": 0},
    "legend": {"title": null, "orient": "none", "symbolType": "stroke", "symbolSize": 1225, "symbolStrokeColor": "#2e3192", "clipHeight": 18.5,
      "labelFont": "Liberation Sans", "labelFontSize": 18, "labelColor": "#1e1e1e", "labelOffset": 14, "rowPadding": 5, "padding": 0, "labelLimit": 400},
    "title": {"font": "Liberation Sans", "fontSize": 20, "fontWeight": "bold", "color": "#1e1e1e", "anchor": "start", "frame": "group", "baseline": "alphabetic"}
  }
}
